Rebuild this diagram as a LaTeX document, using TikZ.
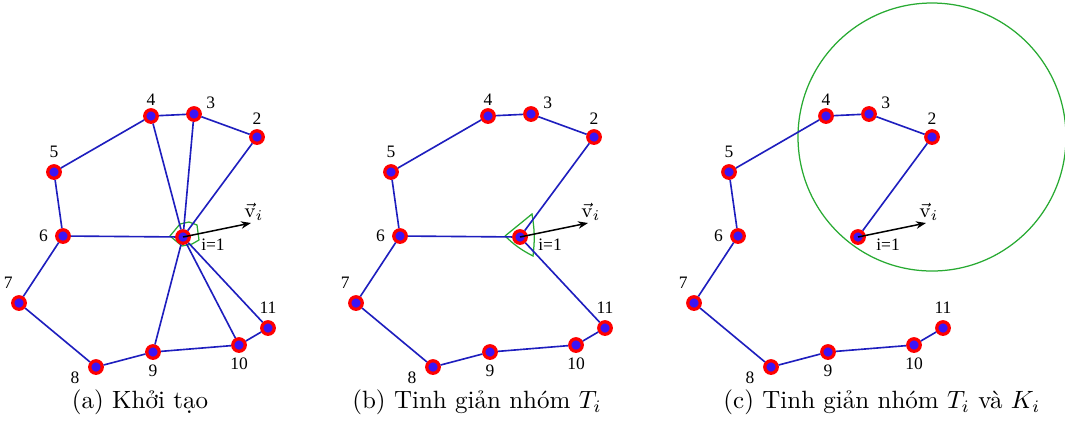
\documentclass[tikz,border=0pt]{standalone}
\usepackage{fontspec}
\usepackage{tikz}
\usetikzlibrary{arrows.meta}
\newfontfamily\numfont{Liberation Serif}
\definecolor{nodeblue}{RGB}{60,20,245}
\definecolor{edgeblue}{RGB}{30,30,190}
\definecolor{zonegreen}{RGB}{40,170,50}
\tikzset{
vertex/.style={circle, draw=red, fill=nodeblue, line width=1.3pt, minimum size=5pt, inner sep=0pt},
lbl/.style={font=\numfont\fontsize{7}{8}\selectfont, inner sep=0.5pt, label distance=1.7pt},
link/.style={draw=edgeblue, line width=0.65pt},
zone/.style={draw=zonegreen, line width=0.5pt},
velocity/.style={-{Stealth[length=4pt,width=3pt]}, line width=0.6pt, black},
vlabel/.style={font=\footnotesize, inner sep=0pt},
caption/.style={font=\fontsize{10}{12}\selectfont, inner sep=0pt}
}

\begin{document}
\begin{tikzpicture}[x=0.4pt,y=-0.4pt]
    \useasboundingbox (0,0) rectangle (1065,435);
    % (a) initial graph
    \draw[zone] (170,236) -- (180,224) -- (189,222) -- (197,225) -- (199,240) -- (192,244) -- (182,246) -- cycle;
    \node[vertex] (a1) at (183,237) {};
    \node[vertex, label={[lbl,label distance=1.1pt]above:2}] (a2) at (257,137) {};
    \node[vertex, label={[lbl,label distance=1.4pt]20:3}] (a3) at (194,114) {};
    \node[vertex, label={[lbl,label distance=0.3pt]above:4}] (a4) at (151,116) {};
    \node[vertex, label={[lbl]above:5}] (a5) at (54,172) {};
    \node[vertex, label={[lbl,label distance=2.2pt]left:6}] (a6) at (63,236) {};
    \node[vertex, label={[lbl,label distance=2.2pt]110:7}] (a7) at (19,303) {};
    \node[vertex, label={[lbl,label distance=3pt]193:8}] (a8) at (96,367) {};
    \node[vertex, label={[lbl,label distance=1.4pt]below:9}] (a9) at (153,352) {};
    \node[vertex, label={[lbl,label distance=1.4pt]below:10}] (a10) at (239,345) {};
    \node[vertex, label={[lbl,label distance=1.8pt]above:11}] (a11) at (268,328) {};
    \draw[link] (a2) -- (a3) -- (a4) -- (a5) -- (a6) -- (a7) -- (a8) -- (a9) -- (a10) -- (a11);
    \draw[link] (a1) -- (a2);
    \draw[link] (a1) -- (a3);
    \draw[link] (a1) -- (a4);
    \draw[link] (a1) -- (a6);
    \draw[link] (a1) -- (a9);
    \draw[link] (a1) -- (a10);
    \draw[link] (a1) -- (a11);
    \coordinate (av) at (251,223);
    \draw[velocity] (a1.center) -- (av);
    \node[vlabel] (avl) at (254,212) {$\vec{\mathrm{v}}_i$};
    \node[lbl] (ai) at (213,245) {i=1};
    \node[caption] (capa) at (140,402) {(a) Khởi tạo};

    % (b) reduced group T_i
    \begin{scope}[shift={(337,0)}]
    \draw[zone] (168,236) -- (195,214) to[bend left=8] (196,256) to[bend left=8] (168,236);
    \node[vertex] (b1) at (183,237) {};
    \node[vertex, label={[lbl,label distance=1.1pt]above:2}] (b2) at (257,137) {};
    \node[vertex, label={[lbl,label distance=1.4pt]20:3}] (b3) at (194,114) {};
    \node[vertex, label={[lbl,label distance=0.3pt]above:4}] (b4) at (151,116) {};
    \node[vertex, label={[lbl]above:5}] (b5) at (54,172) {};
    \node[vertex, label={[lbl,label distance=2.2pt]left:6}] (b6) at (63,236) {};
    \node[vertex, label={[lbl,label distance=2.2pt]110:7}] (b7) at (19,303) {};
    \node[vertex, label={[lbl,label distance=3pt]193:8}] (b8) at (96,367) {};
    \node[vertex, label={[lbl,label distance=1.4pt]below:9}] (b9) at (153,352) {};
    \node[vertex, label={[lbl,label distance=1.4pt]below:10}] (b10) at (239,345) {};
    \node[vertex, label={[lbl,label distance=1.8pt]above:11}] (b11) at (268,328) {};
    \draw[link] (b2) -- (b3) -- (b4) -- (b5) -- (b6) -- (b7) -- (b8) -- (b9) -- (b10) -- (b11);
    \draw[link] (b1) -- (b2);
    \draw[link] (b1) -- (b6);
    \draw[link] (b1) -- (b11);
    \coordinate (bv) at (251,223);
    \draw[velocity] (b1.center) -- (bv);
    \node[vlabel] (bvl) at (254,212) {$\vec{\mathrm{v}}_i$};
    \node[lbl] (bi) at (213,245) {i=1};
    \node[caption] (capb) at (140,402) {(b) Tinh giản nhóm $T_i$};
    \end{scope}

    % (c) reduced groups T_i and K_i
    \begin{scope}[shift={(675,0)}]
    \node[vertex] (c1) at (183,237) {};
    \node[vertex, label={[lbl,label distance=1.1pt]above:2}] (c2) at (257,137) {};
    \node[vertex, label={[lbl,label distance=1.4pt]20:3}] (c3) at (194,114) {};
    \node[vertex, label={[lbl,label distance=0.3pt]above:4}] (c4) at (151,116) {};
    \node[vertex, label={[lbl]above:5}] (c5) at (54,172) {};
    \node[vertex, label={[lbl,label distance=2.2pt]left:6}] (c6) at (63,236) {};
    \node[vertex, label={[lbl,label distance=2.2pt]110:7}] (c7) at (19,303) {};
    \node[vertex, label={[lbl,label distance=3pt]193:8}] (c8) at (96,367) {};
    \node[vertex, label={[lbl,label distance=1.4pt]below:9}] (c9) at (153,352) {};
    \node[vertex, label={[lbl,label distance=1.4pt]below:10}] (c10) at (239,345) {};
    \node[vertex, label={[lbl,label distance=1.8pt]above:11}] (c11) at (268,328) {};
    \draw[zone] (c2.center) circle[radius=134];
    \draw[link] (c1) -- (c2) -- (c3) -- (c4) -- (c5) -- (c6) -- (c7) -- (c8) -- (c9) -- (c10) -- (c11);
    \coordinate (cv) at (251,223);
    \draw[velocity] (c1.center) -- (cv);
    \node[vlabel] (cvl) at (254,212) {$\vec{\mathrm{v}}_i$};
    \node[lbl] (ci) at (213,245) {i=1};
    \node[caption] (capc) at (207,402) {(c) Tinh giản nhóm $T_i$ và $K_i$};
    \end{scope}
\end{tikzpicture}
\end{document}
